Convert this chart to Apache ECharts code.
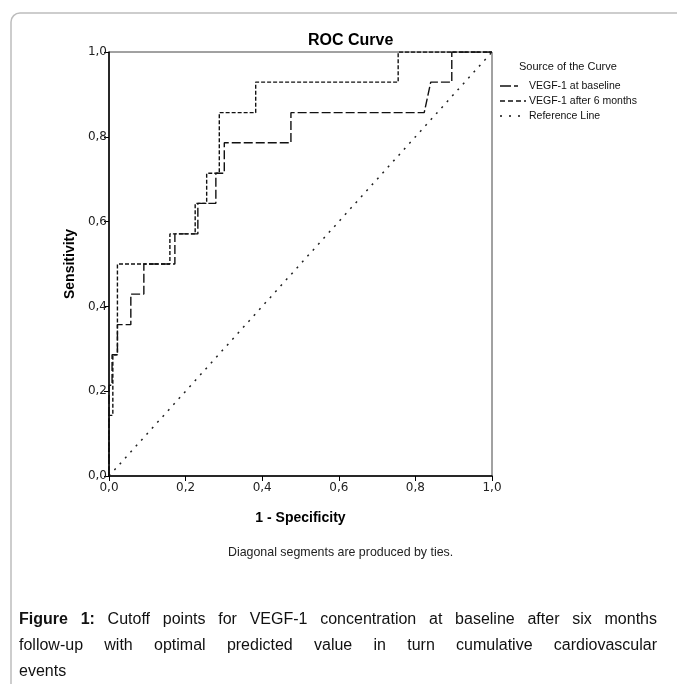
<!DOCTYPE html>
<html>
<head>
<meta charset="utf-8">
<script src="https://cdn.jsdelivr.net/npm/echarts@6/dist/echarts.min.js"></script>
<style>
html,body{margin:0;padding:0;background:#fff;}
#chart{width:677px;height:684px;}
</style>
</head>
<body>
<div id="chart"></div>
<script>
// ---- data ----
const tickLabels = ['0,0', '0,2', '0,4', '0,6', '0,8', '1,0'];
const baselineFPR = [0, 0, 0.008, 0.008, 0.022, 0.022, 0.057, 0.057, 0.091, 0.091, 0.172, 0.172, 0.232, 0.232, 0.279, 0.279, 0.301, 0.301, 0.475, 0.475, 0.823, 0.840, 0.895, 0.895, 1];
const baselineTPR = [0, 0.214, 0.214, 0.286, 0.286, 0.357, 0.357, 0.429, 0.429, 0.5, 0.5, 0.571, 0.571, 0.643, 0.643, 0.714, 0.714, 0.786, 0.786, 0.857, 0.857, 0.929, 0.929, 1, 1];
const sixMonthFPR = [0, 0, 0.010, 0.010, 0.022, 0.022, 0.159, 0.159, 0.225, 0.225, 0.255, 0.255, 0.288, 0.288, 0.383, 0.383, 0.755, 0.755, 1];
const sixMonthTPR = [0, 0.143, 0.143, 0.286, 0.286, 0.5, 0.5, 0.571, 0.571, 0.643, 0.643, 0.714, 0.714, 0.857, 0.857, 0.929, 0.929, 1, 1];
const refFPR = [0, 1];
const refTPR = [0, 1];
const seriesNames = ['VEGF-1 at baseline', 'VEGF-1 after 6 months', 'Reference Line'];

const zip = (a, b) => a.map((v, i) => [v, b[i]]);

// caption layout helper (justified text)
const mctx = document.createElement('canvas').getContext('2d');
const capFont = '"Liberation Sans", Arial, sans-serif';
const capSize = 16;
function measure(w, bold) {
  mctx.font = (bold ? 'bold ' : '') + capSize + 'px ' + capFont;
  return mctx.measureText(w).width;
}
function captionLine(words, boldN, y, x0, x1, justify) {
  const widths = words.map((w, i) => measure(w, i < boldN));
  const total = widths.reduce((s, v) => s + v, 0);
  const gap = justify ? (x1 - x0 - total) / (words.length - 1) : measure(' ', false);
  let x = x0;
  return words.map((w, i) => {
    const el = {
      type: 'text', x: x, y: y,
      style: { text: w, font: (i < boldN ? 'bold ' : '') + capSize + 'px ' + capFont, fill: '#111', textVerticalAlign: 'middle' }
    };
    x += widths[i] + gap;
    return el;
  });
}
const capX0 = 19, capX1 = 657;
const line1 = 'Figure 1: Cutoff points for VEGF-1 concentration at baseline after six months'.split(' ');
const line2 = 'follow-up with optimal predicted value in turn cumulative cardiovascular'.split(' ');
const line3 = ['events'];

const chart = echarts.init(document.getElementById('chart'), null, { renderer: 'canvas' });

const axisLabelStyle = { fontFamily: 'DejaVu Sans', fontSize: 12, color: '#222' };

const option = {
  animation: false,
  backgroundColor: '#fff',
  title: {
    text: 'ROC Curve',
    left: 303, top: 28,
    textStyle: { fontFamily: 'Liberation Sans', fontWeight: 'bold', fontSize: 16, color: '#000' }
  },
  grid: {
    left: 109, right: 185, top: 52, bottom: 208,
    show: true, borderColor: '#444', borderWidth: 1, backgroundColor: 'transparent'
  },
  xAxis: {
    type: 'value', min: 0, max: 1, interval: 0.2,
    name: '1 - Specificity', nameLocation: 'middle', nameGap: 35,
    nameTextStyle: { fontFamily: 'Liberation Sans', fontWeight: 'bold', fontSize: 14, color: '#000' },
    axisLine: { show: true, onZero: false, lineStyle: { color: '#000', width: 1.5 } },
    axisTick: { show: true, length: 5, lineStyle: { color: '#000' } },
    axisLabel: Object.assign({ margin: 6, formatter: (v) => tickLabels[Math.round(v / 0.2)] }, axisLabelStyle),
    splitLine: { show: false }
  },
  yAxis: {
    type: 'value', min: 0, max: 1, interval: 0.2,
    name: 'Sensitivity', nameLocation: 'middle', nameGap: 28,
    nameTextStyle: { fontFamily: 'Liberation Sans', fontWeight: 'bold', fontSize: 14, color: '#000' },
    axisLine: { show: true, onZero: false, lineStyle: { color: '#000', width: 1.5 } },
    axisTick: { show: true, length: 5, lineStyle: { color: '#000' } },
    axisLabel: Object.assign({ margin: 2, formatter: (v) => tickLabels[Math.round(v / 0.2)] }, axisLabelStyle),
    splitLine: { show: false }
  },
  series: [
    {
      name: seriesNames[2], type: 'line', data: zip(refFPR, refTPR), showSymbol: false, symbol: 'none',
      lineStyle: { color: '#222', width: 1.5, type: [2, 6] }, z: 2
    },
    {
      name: seriesNames[1], type: 'line', data: zip(sixMonthFPR, sixMonthTPR), showSymbol: false, symbol: 'none',
      lineStyle: { color: '#111', width: 1.4, type: [4, 2] }, z: 3
    },
    {
      name: seriesNames[0], type: 'line', data: zip(baselineFPR, baselineTPR), showSymbol: false, symbol: 'none',
      lineStyle: { color: '#111', width: 1.4, type: [9, 3] }, z: 4
    }
  ],
  graphic: [
    {
      type: 'rect', silent: true,
      shape: { x: 11, y: 13, width: 720, height: 720, r: 9 },
      style: { fill: 'none', stroke: '#bdbdbd', lineWidth: 1.5 }
    },
    // legend
    { type: 'text', x: 519, y: 67, style: { text: 'Source of the Curve', font: '11px "Liberation Sans"', fill: '#111', textVerticalAlign: 'middle' } },
    { type: 'line', shape: { x1: 500, y1: 86, x2: 518, y2: 86 }, style: { stroke: '#111', lineWidth: 1.3, lineDash: [11, 3, 4, 40] } },
    { type: 'text', x: 529, y: 86, style: { text: seriesNames[0], font: '10.5px "Liberation Sans"', fill: '#111', textVerticalAlign: 'middle' } },
    { type: 'line', shape: { x1: 500, y1: 101, x2: 526, y2: 101 }, style: { stroke: '#111', lineWidth: 1.3, lineDash: [5, 3] } },
    { type: 'text', x: 529, y: 101, style: { text: seriesNames[1], font: '10.5px "Liberation Sans"', fill: '#111', textVerticalAlign: 'middle' } },
    { type: 'line', shape: { x1: 500, y1: 116, x2: 527, y2: 116 }, style: { stroke: '#111', lineWidth: 1.5, lineDash: [2, 7] } },
    { type: 'text', x: 529, y: 116, style: { text: seriesNames[2], font: '10.5px "Liberation Sans"', fill: '#111', textVerticalAlign: 'middle' } },
    // footnote
    { type: 'text', x: 228, y: 553, style: { text: 'Diagonal segments are produced by ties.', font: '12.4px "Liberation Sans"', fill: '#222', textVerticalAlign: 'middle' } }
  ]
    .concat(captionLine(line1, 2, 620, capX0, capX1, true))
    .concat(captionLine(line2, 0, 646, capX0, capX1, true))
    .concat(captionLine(line3, 0, 672, capX0, capX1, false))
};
chart.setOption(option);
</script>
</body>
</html>
